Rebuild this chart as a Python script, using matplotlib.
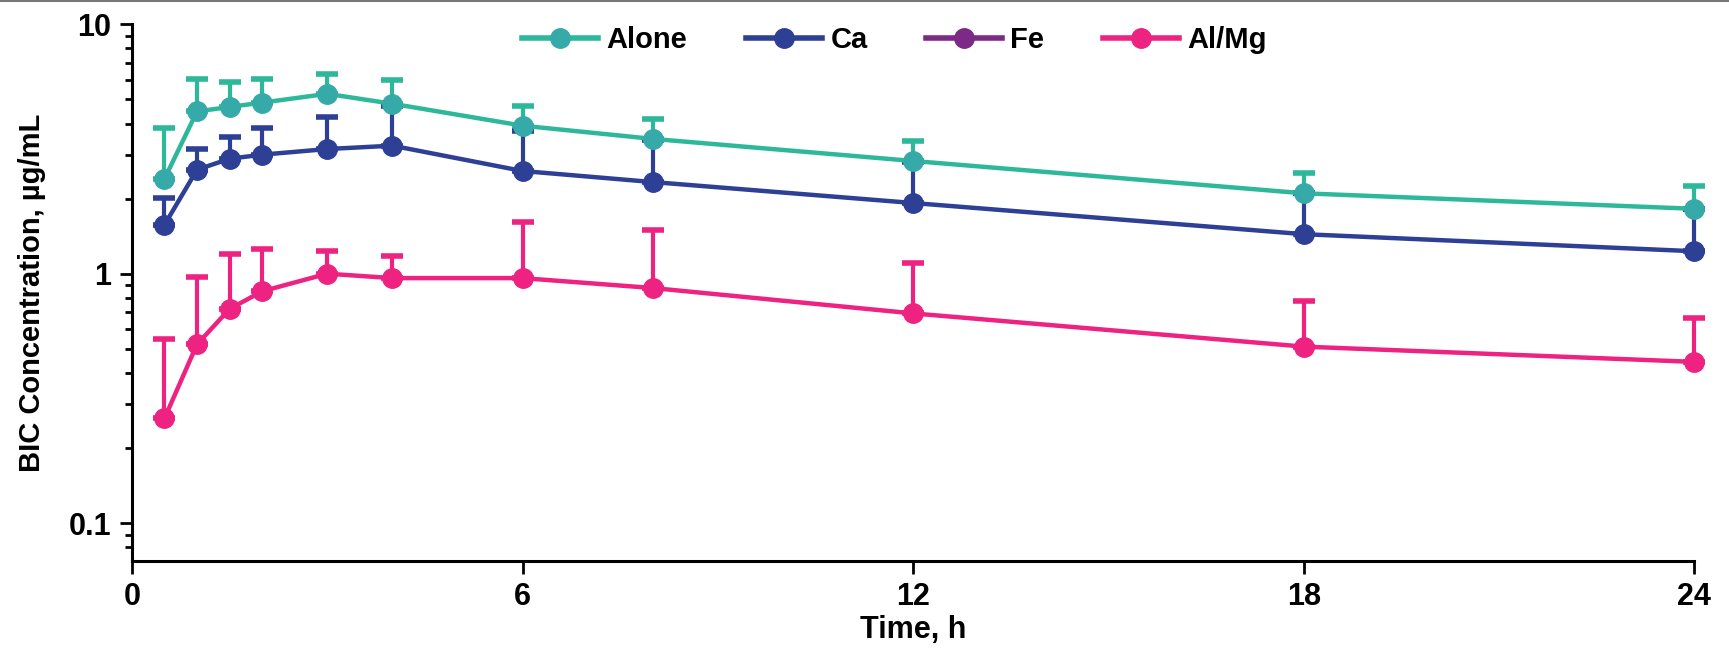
import numpy as np
import matplotlib
matplotlib.use("Agg")
import matplotlib.pyplot as plt
from matplotlib.lines import Line2D
from matplotlib.ticker import LogLocator, NullFormatter, FixedLocator, FixedFormatter

# sampling times (h)
time_h = [0.5, 1, 1.5, 2, 3, 4, 6, 8, 12, 18, 24]

# mean concentrations and upper SD limits, ug/mL
alone_mean = [2.40, 4.47, 4.66, 4.85, 5.26, 4.80, 3.92, 3.47, 2.83, 2.10, 1.82]
alone_upper = [3.84, 6.01, 5.89, 6.01, 6.32, 6.00, 4.71, 4.16, 3.40, 2.53, 2.24]

ca_mean = [1.57, 2.61, 2.89, 3.00, 3.16, 3.26, 2.58, 2.33, 1.92, 1.44, 1.23]
ca_upper = [2.02, 3.16, 3.54, 3.84, 4.25, 4.71, 3.72, 3.43, 2.80, 2.10, 1.81]

almg_mean = [0.263, 0.521, 0.722, 0.85, 1.00, 0.96, 0.96, 0.876, 0.693, 0.51, 0.443]
almg_upper = [0.548, 0.97, 1.20, 1.26, 1.23, 1.18, 1.61, 1.49, 1.10, 0.78, 0.665]

series = [
    ("Alone", alone_mean, alone_upper, "#2EB89A", "#36AAA8"),
    ("Ca", ca_mean, ca_upper, "#2E3F96", "#2E3F96"),
    ("Al/Mg", almg_mean, almg_upper, "#EE2280", "#EE2280"),
]

plt.rcParams["font.family"] = ["Liberation Sans", "DejaVu Sans"]

fig = plt.figure(figsize=(17.29, 6.55), dpi=100)
ax = fig.add_axes([0.0763, 0.1435, 0.9037, 0.8195])

handles = {}
for name, m, up, col, mcol in series:
    m = np.array(m)
    err = np.array(up) - m
    ax.errorbar(time_h, m, yerr=[np.zeros_like(err), err], fmt="none",
                ecolor=col, elinewidth=3, capsize=8, capthick=4, zorder=2,
                clip_on=False)
    ax.plot(time_h, m, color=col, lw=3.2, marker="o", ms=14,
            mfc=mcol, mec=mcol, zorder=3, clip_on=False)
    handles[name] = Line2D([], [], color=col, lw=4, marker="o", ms=14,
                           mfc=mcol, mec=mcol)

# Fe appears only in the legend
handles["Fe"] = Line2D([], [], color="#7B2A85", lw=4, marker="o", ms=14)

ax.set_yscale("log")
ax.set_ylim(0.0705, 10)
ax.set_xlim(0, 24)
ax.xaxis.set_major_locator(FixedLocator([0, 6, 12, 18, 24]))
ax.yaxis.set_major_locator(FixedLocator([0.1, 1, 10]))
ax.yaxis.set_major_formatter(FixedFormatter(["0.1", "1", "10"]))
ax.yaxis.set_minor_locator(LogLocator(base=10, subs=np.arange(2, 10)))
ax.yaxis.set_minor_formatter(NullFormatter())

for s in ["top", "right"]:
    ax.spines[s].set_visible(False)
for s in ["left", "bottom"]:
    ax.spines[s].set_linewidth(2.2)

ax.tick_params(axis="both", which="major", direction="out", length=9, width=2,
               labelsize=22, pad=6)
ax.tick_params(axis="y", which="minor", direction="out", length=5, width=2)
for lab in ax.get_xticklabels() + ax.get_yticklabels():
    lab.set_fontweight("bold")

ax.set_xlabel("Time, h", fontsize=22, fontweight="bold", labelpad=2)
ax.set_ylabel("BIC Concentration, µg/mL", fontsize=21, fontweight="bold", labelpad=16)

order = ["Alone", "Ca", "Fe", "Al/Mg"]
ax.legend([handles[k] for k in order], order, loc="upper center",
          bbox_to_anchor=(0.488, 1.045), ncol=4, frameon=False,
          prop={"weight": "bold", "size": 21},
          handlelength=2.6, columnspacing=2.0, handletextpad=0.3)

fig.add_artist(Line2D([0, 1], [0.998, 0.998], color="#777777", lw=1.5,
                      transform=fig.transFigure))

fig.savefig("out.png", dpi=100)
